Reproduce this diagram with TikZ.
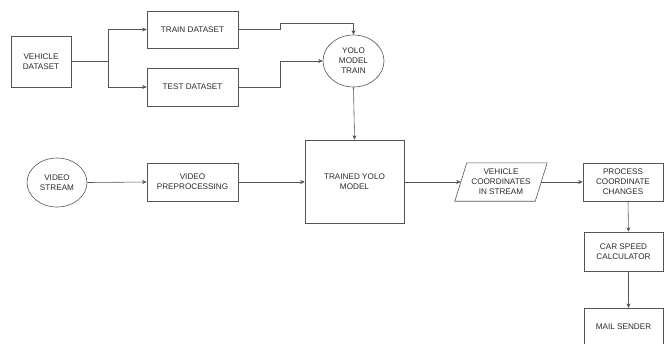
\documentclass[tikz,border=0pt]{standalone}
\usepackage{fontspec}
\setmainfont{Liberation Sans}
\usetikzlibrary{shapes.geometric,arrows.meta,calc}
\definecolor{ln}{HTML}{555555}
\definecolor{tx}{HTML}{2A2A2A}
\begin{document}
\begin{tikzpicture}[x=1bp,y=-1bp,
  every node/.style={font=\fontsize{8.2}{10}\selectfont, text=tx, align=center, inner sep=0pt},
  boxnode/.style={draw=ln, line width=0.6bp, rectangle},
  ellnode/.style={draw=ln, line width=0.6bp, ellipse},
  conn/.style={draw=ln, line width=0.6bp, -{Stealth[length=4.5bp,width=4bp]}},
  plain/.style={draw=ln, line width=0.6bp}]
\useasboundingbox (0,0) rectangle (665,343);
\node[boxnode, minimum width=60bp, minimum height=51bp] (veh) at (41,61.5) {VEHICLE\\DATASET};
\node[boxnode, minimum width=91bp, minimum height=37bp] (train) at (192.5,29.5) {TRAIN DATASET};
\node[boxnode, minimum width=91bp, minimum height=38bp] (test) at (192.5,87) {TEST DATASET};
\node[ellnode, minimum width=61bp, minimum height=52bp] (yolo) at (353.5,61) {YOLO\\MODEL\\TRAIN};
\node[boxnode, minimum width=99bp, minimum height=83bp] (trained) at (354.5,181.5) {TRAINED YOLO\\MODEL};
\node[ellnode, minimum width=60bp, minimum height=49bp] (vs) at (57,182.5) {VIDEO\\STREAM};
\node[boxnode, minimum width=91bp, minimum height=38bp] (pre) at (192.5,182) {VIDEO\\PREPROCESSING};
\node[minimum width=80bp, minimum height=38bp] (coord) at (501,182) {VEHICLE\\COORDINATES\\IN STREAM};
\draw[plain] ($(coord.north west)+(6,0)$) -- ($(coord.north east)+(6,0)$) -- ($(coord.south east)+(-6,0)$) -- ($(coord.south west)+(-6,0)$) -- cycle;
\node[boxnode, minimum width=80bp, minimum height=38bp] (proc) at (623,182) {PROCESS\\COORDINATE\\CHANGES};
\node[boxnode, minimum width=79bp, minimum height=39bp] (car) at (623.5,251.5) {CAR SPEED\\CALCULATOR};
\node[boxnode, minimum width=79bp, minimum height=38bp, anchor=north] (mail) at (623.5,308) {};
\node (mailtext) at (623.5,327) {MAIL SENDER};
\coordinate (split) at (108,61.5);
\coordinate (tj) at (280,29.5);
\coordinate (sj) at (280,87);
\draw[plain] (veh.east) -- (split);
\draw[conn] (split) |- (train.west);
\draw[conn] (split) |- (test.west);
\draw[conn] (train.east) -- (tj) -- (280,23) -| (yolo.north);
\draw[conn] (test.east) -- (sj) |- (yolo.west);
\draw[conn] (yolo.south) -- (trained.north);
\draw[conn] (vs.east) -- (pre.west);
\draw[conn] (pre.east) -- (pre.east -| trained.west);
\draw[conn] (trained.east |- coord.west) -- (coord.west);
\draw[conn] (coord.east) -- (proc.west);
\draw[conn] ([xshift=5bp]proc.south) -- ([xshift=5bp]car.north);
\draw[conn] ([xshift=5bp]car.south) -- ([xshift=5bp]mail.north);
\end{tikzpicture}
\end{document}
